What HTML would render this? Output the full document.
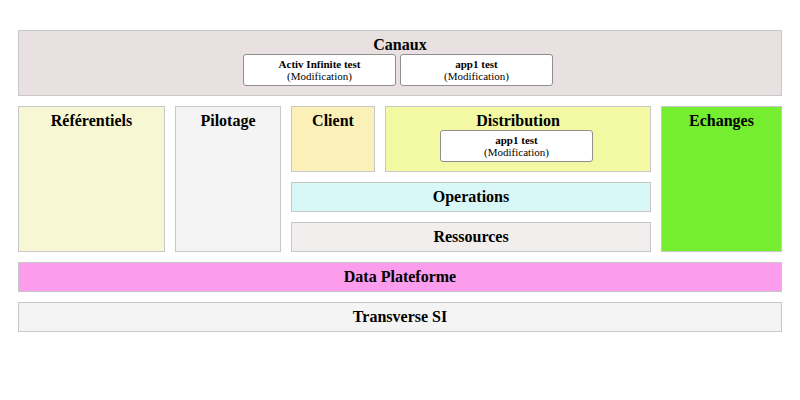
<!DOCTYPE html>
<html><head><meta charset="utf-8">
<style>
html,body{margin:0;padding:0;background:#fff;width:800px;height:400px;overflow:hidden}
body{font-family:"Liberation Serif",serif;color:#000;position:relative}
.b{position:absolute;box-sizing:border-box;border:1px solid #c8c8c8}
.t{position:absolute;left:0;right:0;top:5px;text-align:center;font-weight:bold;font-size:16px;line-height:18px}
.c{position:absolute;top:9px;left:0;right:0;text-align:center;font-weight:bold;font-size:16px;line-height:18px}
.i{position:absolute;box-sizing:border-box;border:1px solid #8f8f8f;border-radius:3px;background:#fff;text-align:center;font-size:11px;line-height:12px;padding-top:3px}
.i b{font-weight:bold}
</style></head><body>
<div class="b" style="left:18px;top:30px;width:764px;height:66px;background:#e8e0e1">
  <div class="t">Canaux</div>
</div>
<div class="i" style="left:243px;top:54px;width:153px;height:32px"><b>Activ Infinite test</b><br>(Modification)</div>
<div class="i" style="left:400px;top:54px;width:153px;height:32px"><b>app1 test</b><br>(Modification)</div>

<div class="b" style="left:18px;top:106px;width:147px;height:146px;background:#f7f7d4"><div class="t">Référentiels</div></div>
<div class="b" style="left:175px;top:106px;width:106px;height:146px;background:#f4f4f4"><div class="t">Pilotage</div></div>
<div class="b" style="left:291px;top:106px;width:84px;height:66px;background:#fcf0b9"><div class="t">Client</div></div>
<div class="b" style="left:385px;top:106px;width:266px;height:66px;background:#f2f9a2"><div class="t">Distribution</div></div>
<div class="i" style="left:440px;top:130px;width:153px;height:32px"><b>app1 test</b><br>(Modification)</div>
<div class="b" style="left:661px;top:106px;width:121px;height:146px;background:#74ee2f"><div class="t">Echanges</div></div>
<div class="b" style="left:291px;top:182px;width:360px;height:30px;background:#d8f8f8"><div class="t">Operations</div></div>
<div class="b" style="left:291px;top:222px;width:360px;height:30px;background:#f3eeee"><div class="t">Ressources</div></div>
<div class="b" style="left:18px;top:262px;width:764px;height:30px;background:#fb9cec"><div class="t">Data Plateforme</div></div>
<div class="b" style="left:18px;top:302px;width:764px;height:30px;background:#f4f4f4"><div class="t">Transverse SI</div></div>
</body></html>
